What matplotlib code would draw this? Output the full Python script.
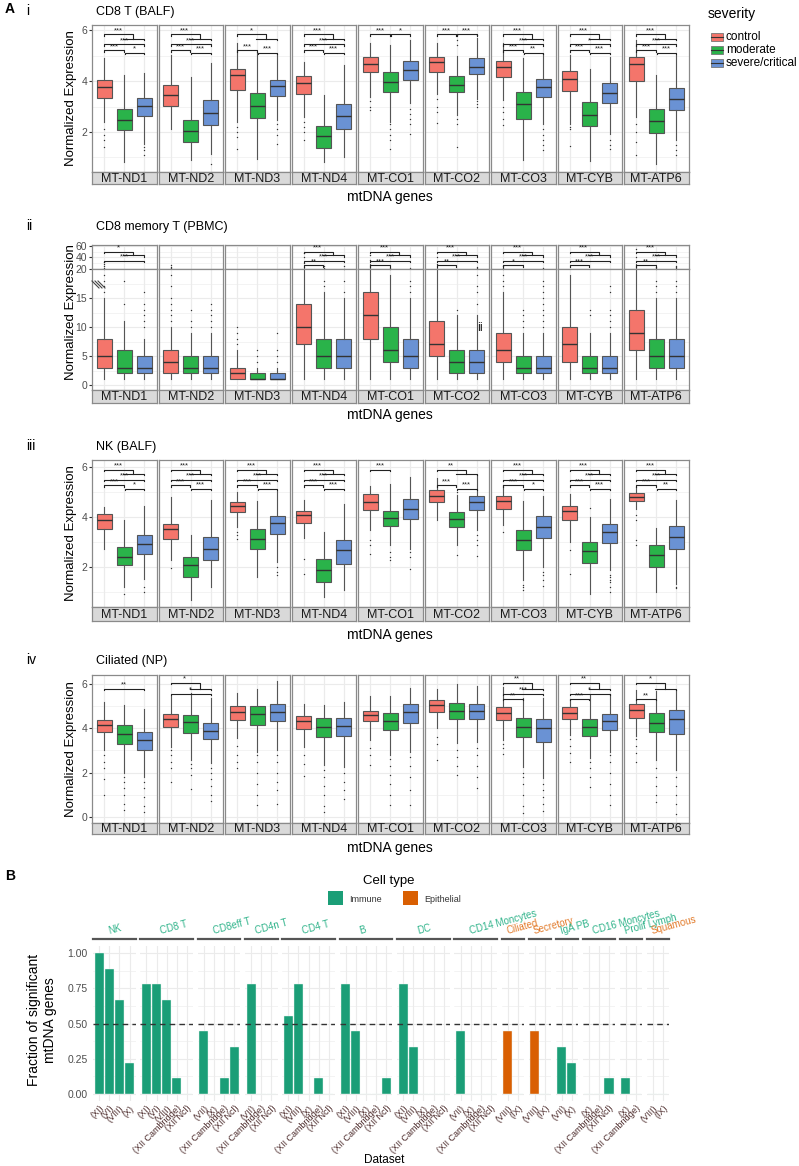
import numpy as np
import matplotlib.pyplot as plt
from matplotlib.lines import Line2D
from matplotlib.patches import Rectangle

plt.rcParams['font.family'] = ['Liberation Sans', 'DejaVu Sans']

# ---------------- data: panel A ----------------
genes = ['MT-ND1', 'MT-ND2', 'MT-ND3', 'MT-ND4', 'MT-CO1', 'MT-CO2', 'MT-CO3', 'MT-CYB', 'MT-ATP6']
severity = ['control', 'moderate', 'severe/critical']
sev_colors = ['#F4756B', '#2AB34A', '#6A92D4']

# box stats per gene: (whislo, q1, median, q3, whishi) for control / moderate / severe
cd8_balf = [
    [(2.40, 3.35, 3.77, 4.03, 4.89), (0.82, 2.07, 2.49, 2.92, 4.23), (1.54, 2.62, 3.01, 3.34, 4.30)],
    [(2.13, 3.02, 3.44, 3.84, 5.02), (0.91, 1.61, 2.04, 2.49, 4.14), (1.15, 2.26, 2.76, 3.25, 4.69)],
    [(2.40, 3.64, 4.23, 4.49, 5.48), (0.95, 2.55, 3.04, 3.55, 5.15), (2.46, 3.40, 3.80, 4.06, 5.08)],
    [(2.57, 3.51, 3.92, 4.18, 4.73), (0.82, 1.39, 1.86, 2.23, 3.47), (1.02, 2.13, 2.62, 3.10, 4.62)],
    [(3.38, 4.36, 4.66, 4.93, 5.50), (2.40, 3.56, 3.96, 4.36, 5.41), (3.12, 4.06, 4.45, 4.78, 5.60)],
    [(3.51, 4.36, 4.73, 4.93, 5.50), (2.66, 3.56, 3.86, 4.18, 5.00), (3.31, 4.26, 4.56, 4.89, 5.70)],
    [(3.25, 4.17, 4.57, 4.79, 5.48), (0.91, 2.50, 3.08, 3.58, 4.89), (2.33, 3.38, 3.77, 4.10, 5.08)],
    [(2.33, 3.60, 4.10, 4.41, 5.02), (0.85, 2.23, 2.66, 3.18, 4.49), (1.94, 3.14, 3.54, 3.93, 4.95)],
    [(2.59, 4.00, 4.66, 4.93, 5.63), (0.76, 1.96, 2.45, 2.89, 4.23), (1.67, 2.85, 3.31, 3.71, 5.02)],
]
cd8_balf_out = [
    [[1.4, 1.7, 1.9, 2.1], [], [1.1, 1.3, 1.4]],
    [[], [], [0.76]],
    [[1.35, 1.8, 2.0, 2.2], [], [1.54, 1.9, 2.1, 2.3]],
    [[1.67, 2.0, 2.2, 2.4], [], []],
    [[2.85, 3.0, 3.2], [1.35, 1.7, 1.9, 2.1, 2.3], [1.94, 2.3, 2.5, 2.7, 2.9]],
    [[2.36, 2.8, 3.0, 3.3], [1.41, 2.3, 2.5, 5.4, 5.6, 5.8], [3.0, 3.1, 3.2, 5.8]],
    [[2.26, 2.5, 2.8, 3.0], [], [1.28, 1.5, 1.7, 1.9, 2.1]],
    [[1.44, 2.1, 2.2], [], [1.35, 1.5, 1.7]],
    [[1.09, 1.6, 2.0, 2.3], [], [1.09, 1.3, 1.5]],
]
cd8_balf_sig = [
    {'1v23': '***', '1v3': '***', '1v2': '***', '2v3': '*'},
    {'1v23': '***', '1v3': '***', '1v2': '***', '2v3': '***'},
    {'1v23': '*', '1v2': '***', '2v3': '***'},
    {'1v23': '***', '1v3': '***', '1v2': '***', '2v3': '***'},
    {'1v2': '***', '2v3': '*'},
    {'1v2': '***', '2v3': '***'},
    {'1v23': '***', '1v3': '***', '1v2': '***', '2v3': '**'},
    {'1v23': '***', '1v3': '*', '1v2': '***', '2v3': '***'},
    {'1v23': '***', '1v3': '***', '1v2': '***', '2v3': '***'},
]

cd8mem_pbmc = [
    [(1, 3, 5, 8, 15), (1, 2, 3, 6, 11), (1, 2, 3, 5, 8)],
    [(1, 2, 4, 6, 10), (1, 2, 3, 5, 9), (1, 2, 3, 5, 9)],
    [(1, 1, 2, 3, 6), (1, 1, 1, 2, 3), (1, 1, 1, 2, 3)],
    [(1, 7, 10, 14, 24), (1, 3, 5, 8, 16), (1, 3, 5, 8, 15)],
    [(1, 8, 12, 16, 28), (1, 4, 6, 10, 19), (1, 3, 5, 8, 15)],
    [(1, 5, 7, 11, 22), (1, 2, 4, 6, 12), (1, 2, 4, 6, 12)],
    [(1, 4, 6, 9, 16), (1, 2, 3, 5, 9), (1, 2, 3, 5, 9)],
    [(1, 4, 7, 10, 19), (1, 2, 3, 5, 9), (1, 2, 3, 5, 9)],
    [(1, 6, 9, 13, 28), (1, 3, 5, 8, 15), (1, 3, 5, 8, 15)],
]
cd8mem_pbmc_out = [
    [[16, 17, 18, 19, 20, 22, 25, 28, 32], [14, 18], [10, 11, 12, 13, 14, 16]],
    [[11, 12, 13, 14, 15, 17, 19, 21, 24, 27], [10, 11, 13], [10, 11, 12, 13, 14]],
    [[7, 8, 9, 10], [4, 5, 6], [4, 5, 6, 9]],
    [[30, 40, 48], [17, 18, 21, 25], [16, 18, 20, 25]],
    [[35, 45], [20, 22], [16, 17, 18, 22]],
    [[28, 40], [13], [14, 16, 17, 19, 21, 23]],
    [[17, 18, 19, 20, 21, 25], [10, 11, 12, 13], [10, 11, 12, 13, 14, 15, 16, 17, 18, 22]],
    [[], [12, 13], [10, 11, 12, 13, 16, 17]],
    [[40, 55], [16, 17, 18, 20, 21, 23], [16, 17, 18, 20, 21, 23, 25]],
]
cd8mem_pbmc_sig = [
    {'1v23': '*', '1v3': '***'},
    {}, {},
    {'1v23': '***', '1v3': '***', '1v2': '**'},
    {'1v23': '***', '1v3': '***', '1v2': '***'},
    {'1v23': '***', '1v3': '***', '1v2': '**'},
    {'1v23': '***', '1v3': '***', '1v2': '*'},
    {'1v23': '***', '1v3': '***', '1v2': '***'},
    {'1v23': '***', '1v3': '***', '1v2': '**'},
]

nk_balf = [
    [(2.73, 3.52, 3.89, 4.11, 4.40), (1.20, 2.07, 2.40, 2.80, 3.89), (1.53, 2.53, 2.93, 3.29, 4.43)],
    [(2.27, 3.11, 3.53, 3.72, 4.80), (0.67, 1.60, 2.07, 2.40, 3.27), (1.20, 2.27, 2.73, 3.20, 4.67)],
    [(3.60, 4.20, 4.45, 4.61, 5.00), (1.60, 2.72, 3.13, 3.51, 4.63), (2.20, 3.32, 3.77, 4.05, 5.03)],
    [(3.17, 3.76, 4.07, 4.24, 4.69), (0.80, 1.40, 1.87, 2.33, 3.40), (1.07, 2.13, 2.67, 3.07, 4.53)],
    [(3.49, 4.29, 4.60, 4.91, 5.23), (2.87, 3.63, 3.97, 4.23, 5.33), (2.73, 3.93, 4.33, 4.73, 5.60)],
    [(3.87, 4.60, 4.84, 5.07, 5.56), (2.87, 3.60, 3.93, 4.20, 4.89), (3.47, 4.27, 4.60, 4.84, 5.67)],
    [(3.67, 4.33, 4.64, 4.85, 5.27), (1.47, 2.67, 3.09, 3.49, 4.64), (2.00, 3.17, 3.60, 4.03, 4.83)],
    [(3.00, 3.87, 4.23, 4.43, 4.93), (0.93, 2.17, 2.64, 3.00, 4.00), (1.87, 2.97, 3.40, 3.73, 4.73)],
    [(4.33, 4.64, 4.80, 4.96, 5.20), (1.00, 2.00, 2.47, 2.89, 3.56), (1.33, 2.73, 3.20, 3.64, 4.69)],
]
nk_balf_out = [
    [[], [0.93], [1.0, 1.2]],
    [[1.97], [], []],
    [[3.13, 3.3, 3.4], [], [1.67, 1.8, 2.0]],
    [[1.71, 2.33], [], []],
    [[2.53, 2.9, 3.1], [2.27, 2.4, 2.6], [1.93, 2.4, 2.6]],
    [[], [2.47, 5.0], [2.43, 2.9, 3.1, 3.3]],
    [[3.4], [1.09, 1.2, 1.3], [1.23, 1.5, 1.7, 1.8]],
    [[1.71, 2.7], [4.36], [1.0, 1.2, 1.4, 1.5, 1.6, 1.7]],
    [[2.87, 3.1, 3.9, 4.1], [], [1.15, 1.2]],
]
nk_balf_sig = [
    {'1v23': '***', '1v3': '***', '1v2': '***', '2v3': '*'},
    {'1v23': '***', '1v3': '***', '1v2': '***', '2v3': '***'},
    {'1v23': '***', '1v3': '***', '1v2': '***', '2v3': '***'},
    {'1v23': '***', '1v3': '***', '1v2': '***', '2v3': '***'},
    {'1v2': '***'},
    {'1v23': '**', '1v2': '***', '2v3': '***'},
    {'1v23': '***', '1v3': '***', '1v2': '***', '2v3': '*'},
    {'1v23': '***', '1v3': '***', '1v2': '***', '2v3': '***'},
    {'1v23': '***', '1v3': '***', '1v2': '***', '2v3': '**'},
]

ciliated_np = [
    [(3.02, 3.82, 4.14, 4.38, 5.17), (1.97, 3.28, 3.72, 4.13, 5.06), (1.82, 3.02, 3.48, 3.82, 4.87)],
    [(3.17, 4.04, 4.43, 4.64, 5.44), (2.57, 3.78, 4.26, 4.61, 5.60), (2.45, 3.51, 3.89, 4.23, 5.37)],
    [(3.55, 4.35, 4.73, 4.99, 5.59), (2.95, 4.16, 4.64, 4.99, 5.77), (3.02, 4.31, 4.73, 5.09, 6.12)],
    [(3.14, 3.96, 4.31, 4.53, 5.09), (2.34, 3.60, 4.04, 4.46, 5.06), (2.27, 3.63, 4.08, 4.46, 5.17)],
    [(3.48, 4.31, 4.60, 4.79, 5.44), (2.79, 3.93, 4.34, 4.69, 5.47), (2.95, 4.23, 4.72, 5.09, 5.82)],
    [(4.00, 4.75, 5.05, 5.26, 5.77), (3.33, 4.41, 4.78, 5.14, 6.00), (3.40, 4.41, 4.79, 5.09, 5.92)],
    [(3.48, 4.35, 4.69, 4.94, 5.86), (2.27, 3.60, 4.05, 4.46, 5.37), (1.74, 3.36, 4.00, 4.43, 5.37)],
    [(3.70, 4.41, 4.69, 4.94, 5.32), (2.65, 3.67, 4.05, 4.41, 5.52), (2.95, 3.93, 4.34, 4.64, 5.55)],
    [(3.66, 4.47, 4.81, 5.09, 5.71), (2.57, 3.81, 4.23, 4.69, 5.70), (2.12, 3.73, 4.41, 4.84, 5.74)],
]
ciliated_np_out = [
    [[0.98, 1.7, 2.2, 2.5, 2.8], [0.3, 0.6, 1.0, 1.3, 1.6, 1.8], [0.23, 0.5, 0.9, 1.3, 1.6]],
    [[1.59, 2.2, 2.5, 2.8, 3.0], [1.24, 1.9, 2.2, 2.4], [0.73, 1.0, 1.4, 1.7, 2.0, 2.2]],
    [[2.2, 2.5, 2.8, 3.2], [0.53, 1.0, 1.5, 2.0, 2.5, 2.8], [0.6, 1.2, 1.6, 2.0, 2.5, 2.8]],
    [[1.85, 2.4, 2.8], [0.23, 0.5, 1.0, 1.4, 1.8, 2.1], [0.79, 1.2, 1.6, 2.0]],
    [[2.34, 2.8, 3.1], [0.53, 1.0, 1.5, 1.9, 2.3, 2.6], [0.53, 1.2, 1.8, 2.3, 2.7]],
    [[2.57, 3.3, 3.6], [1.89, 2.3, 2.7, 3.0], [1.29, 1.8, 2.3, 2.8, 3.1]],
    [[2.83, 3.1, 3.3], [0.18, 0.5, 1.0, 1.5, 1.8, 2.0], [0.26, 0.6, 0.9, 1.2, 1.5]],
    [[2.5, 2.9, 3.2, 3.5], [1.36, 1.8, 2.2, 2.5], [0.53, 1.0, 1.5, 2.0, 2.5, 2.8]],
    [[2.5, 2.9, 3.2, 3.5], [0.68, 1.0, 1.4, 1.8, 2.2], [0.12, 0.6, 1.0, 1.4, 1.8]],
]
ciliated_np_sig = [
    {'1v3': '**'},
    {'1v23': '*', '1v3': '*'},
    {}, {}, {}, {},
    {'1v23': '**', '1v3': '***', '1v2': '**'},
    {'1v23': '**', '1v3': '*', '1v2': '***'},
    {'1v23': '*', '1v2': '**'},
]

# ---------------- data: panel B ----------------
b_celltypes = ['NK', 'CD8 T', 'CD8eff T', 'CD4n T', 'CD4 T', 'B', 'DC', 'CD14 Moncytes',
               'Ciliated', 'Secretory', 'IgA PB', 'CD16 Moncytes', 'Prolif Lymph', 'Squamous']
b_kind = ['Immune'] * 8 + ['Epithelial', 'Epithelial', 'Immune', 'Immune', 'Immune', 'Epithelial']
b_datasets = [
    ['(XI)', '(VI)', '(VIII)', '(X)'],
    ['(XI)', '(VI)', '(VIII)', '(XII Cambridge)', '(XII Ncl)'],
    ['(VII)', '(X)', '(XII Cambridge)', '(XII Ncl)'],
    ['(VII)', '(XII Cambridge)', '(XII Ncl)'],
    ['(XI)', '(VIII)', '(X)', '(XII Cambridge)', '(XII Ncl)'],
    ['(XI)', '(VIII)', '(X)', '(XII Cambridge)', '(XII Ncl)'],
    ['(XI)', '(VIII)', '(X)', '(XII Cambridge)', '(XII Ncl)'],
    ['(VII)', '(X)', '(XII Cambridge)', '(XII Ncl)'],
    ['(VIII)', '(IX)'],
    ['(VIII)', '(IX)'],
    ['(VII)', '(X)'],
    ['(X)', '(XII Cambridge)', '(XII Ncl)'],
    ['(X)', '(XII Cambridge)'],
    ['(VIII)', '(IX)'],
]
b_frac = [
    [1.000, 0.889, 0.667, 0.222],
    [0.778, 0.778, 0.667, 0.111, 0.0],
    [0.444, 0.0, 0.111, 0.333],
    [0.778, 0.0, 0.0],
    [0.556, 0.778, 0.0, 0.111, 0.0],
    [0.778, 0.444, 0.0, 0.0, 0.111],
    [0.778, 0.333, 0.0, 0.0, 0.0],
    [0.444, 0.0, 0.0, 0.0],
    [0.444, 0.0],
    [0.444, 0.0],
    [0.333, 0.222],
    [0.0, 0.0, 0.111],
    [0.111, 0.0],
    [0.0, 0.0],
]
kind_colors = {'Immune': '#1b9e77', 'Epithelial': '#d95f02'}
kind_text = {'Immune': '#2fb38a', 'Epithelial': '#e27b2b'}

# ---------------- figure ----------------
W, H = 799, 1166
fig = plt.figure(figsize=(W / 100, H / 100), dpi=100)


def add_ax(x0, y0, x1, y1):
    return fig.add_axes([x0 / W, 1 - y1 / H, (x1 - x0) / W, (y1 - y0) / H])


def ftext(x, y, s, **kw):
    fig.text(x / W, 1 - y / H, s, **kw)


def fline(xs, ys, **kw):
    fig.add_artist(Line2D([x / W for x in xs], [1 - y / H for y in ys], **kw))


border = '#8a8a8a'
gridc = '#ebebeb'


def style_panel(ax, ylim, major, minor, show_y):
    ax.set_xlim(0.375, 3.625)
    ax.set_ylim(*ylim)
    ax.set_xticks([1, 2, 3])
    ax.set_yticks(major)
    ax.set_yticks(minor, minor=True)
    ax.grid(True, which='major', color=gridc, lw=0.8)
    ax.grid(True, which='minor', color=gridc, lw=0.4)
    ax.set_axisbelow(True)
    for s in ax.spines.values():
        s.set_color(border)
        s.set_linewidth(0.9)
    ax.tick_params(axis='x', length=0, labelbottom=False)
    ax.tick_params(axis='y', which='minor', length=0)
    if show_y:
        ax.tick_params(axis='y', length=2.5, color='#333333', labelsize=7.5, labelcolor='#4d4d4d', pad=1)
    else:
        ax.tick_params(axis='y', length=0, labelleft=False)


def draw_boxes(ax, stats3, out3):
    stats = []
    for k in range(3):
        lo, q1, med, q3, hi = stats3[k]
        stats.append(dict(whislo=lo, q1=q1, med=med, q3=q3, whishi=hi, fliers=out3[k]))
    bp = ax.bxp(stats, positions=[1, 2, 3], widths=0.75, patch_artist=True, showcaps=False,
                boxprops=dict(edgecolor='#555555', linewidth=0.8),
                medianprops=dict(color='#333333', linewidth=1.0),
                whiskerprops=dict(color='#555555', linewidth=0.8),
                flierprops=dict(marker='o', markersize=1.0, markerfacecolor='#333333',
                                markeredgecolor='none'))
    for patch, c in zip(bp['boxes'], sev_colors):
        patch.set_facecolor(c)


def draw_sig(ax, sig, levels, tip):
    top, second, l13, l12, l23 = levels
    if '1v23' not in sig:
        l13 = second
        l12 = l23 = top
    kw = dict(color='#222222', lw=0.8, clip_on=False)
    tk = dict(ha='center', va='bottom', fontsize=5.5, color='#222222')
    if '1v23' in sig:
        ax.plot([1.0, 1.0, 2.45, 2.45], [top - tip, top, top, second], **kw)
        ax.plot([1.95, 3.0, 3.0], [second, second, second - tip], **kw)
        ax.text(1.7, top, sig['1v23'], **tk)
    if '1v3' in sig:
        ax.plot([1.0, 1.0, 3.0, 3.0], [l13 - tip, l13, l13, l13 - tip], **kw)
        ax.text(2.0, l13, sig['1v3'], **tk)
    if '1v2' in sig:
        ax.plot([1.0, 1.0, 1.97, 1.97], [l12 - tip, l12, l12, l12 - tip], **kw)
        ax.text(1.5, l12, sig['1v2'], **tk)
    if '2v3' in sig:
        ax.plot([2.03, 2.03, 3.0, 3.0], [l23 - tip, l23, l23, l23 - tip], **kw)
        ax.text(2.5, l23, sig['2v3'], **tk)


def draw_strip(x0, x1, y0, y1, label):
    sa = add_ax(x0, y0, x1, y1)
    sa.set_facecolor('#d9d9d9')
    sa.set_xticks([])
    sa.set_yticks([])
    for s in sa.spines.values():
        s.set_color(border)
        s.set_linewidth(0.9)
    sa.text(0.5, 0.45, label, ha='center', va='center', fontsize=9, color='#1a1a1a',
            transform=sa.transAxes)


fx0 = [92 + 66.5 * k for k in range(9)]
fw = 64.5

rows = [
    dict(data=cd8_balf, out=cd8_balf_out, sig=cd8_balf_sig, top=25, bot=172, strip=184,
         ylim=(0.43, 6.2), major=[2, 4, 6], minor=[1, 3, 5],
         levels=(5.83, 5.66, 5.45, 5.21, 5.12), tip=0.06),
    dict(data=nk_balf, out=nk_balf_out, sig=nk_balf_sig, top=460, bot=607, strip=621,
         ylim=(0.4, 6.28), major=[2, 4, 6], minor=[1, 3, 5],
         levels=(5.89, 5.73, 5.49, 5.27, 5.13), tip=0.06),
    dict(data=ciliated_np, out=ciliated_np_out, sig=ciliated_np_sig, top=675, bot=823, strip=834,
         ylim=(-0.27, 6.4), major=[0, 2, 4, 6], minor=[1, 3, 5],
         levels=(6.05, 5.79, 5.56, 5.32, 5.2), tip=0.06),
]

for r in rows:
    for g in range(9):
        ax = add_ax(fx0[g], r['top'], fx0[g] + fw, r['bot'])
        style_panel(ax, r['ylim'], r['major'], r['minor'], g == 0)
        draw_boxes(ax, r['data'][g], r['out'][g])
        draw_sig(ax, r['sig'][g], r['levels'], r['tip'])
        draw_strip(fx0[g], fx0[g] + fw, r['bot'], r['strip'], genes[g])

# row ii with broken axis
for g in range(9):
    up = add_ax(fx0[g], 245, fx0[g] + fw, 269)
    lo = add_ax(fx0[g], 269, fx0[g] + fw, 390)
    style_panel(up, (20, 61.7), [20, 40, 60], [30, 50], g == 0)
    style_panel(lo, (-0.86, 20), [0, 5, 10, 15], [2.5, 7.5, 12.5, 17.5], g == 0)
    draw_boxes(up, cd8mem_pbmc[g], cd8mem_pbmc_out[g])
    draw_boxes(lo, cd8mem_pbmc[g], cd8mem_pbmc_out[g])
    draw_sig(up, cd8mem_pbmc_sig[g], (50, 44.3, 34.5, 27, 25), 3.0)
    draw_strip(fx0[g], fx0[g] + fw, 390, 403, genes[g])

# break marks
for dx in (0, 3, 6):
    fline([92 + dx, 99 + dx], [281, 288], color='#444444', lw=0.8)

# labels panel A
ftext(5, 9, 'A', fontsize=10, fontweight='bold', va='center')
for lab, ttl, y in [('i', 'CD8 T (BALF)', 12), ('ii', 'CD8 memory T (PBMC)', 227),
                    ('iii', 'NK (BALF)', 447), ('iv', 'Ciliated (NP)', 661)]:
    ftext(26, y - 1, lab, fontsize=10, va='center')
    ftext(96, y, ttl, fontsize=9, va='center')
for yc in (98, 312, 533, 749):
    ftext(71, yc, 'Normalized Expression', fontsize=9.5, rotation=90, ha='center', va='center')
for yc in (197, 415, 635, 848):
    ftext(390, yc, 'mtDNA genes', fontsize=10, ha='center', va='center')
ftext(480, 328, 'ii', fontsize=9, ha='center', va='center', color='#222222')

# severity legend
ftext(708, 14, 'severity', fontsize=10, va='center')
for k, (name, c) in enumerate(zip(severity, sev_colors)):
    yc = 37 + 13 * k
    fig.add_artist(Rectangle((711 / W, 1 - (yc + 4) / H), 12 / W, 8 / H, facecolor=c,
                             edgecolor='#777777', lw=0.6))
    fline([711, 723], [yc, yc], color='#333333', lw=0.8)
    ftext(726, yc, name, fontsize=8.5, va='center')

# ---------------- panel B ----------------
ftext(5, 876, 'B', fontsize=10, fontweight='bold', va='center')
ftext(389, 881, 'Cell type', fontsize=9.5, ha='center', va='center')
for xk, name in [(328, 'Immune'), (403, 'Epithelial')]:
    fig.add_artist(Rectangle((xk / W, 1 - 905 / H), 15 / W, 14 / H, facecolor=kind_colors[name],
                             edgecolor='none'))
    ftext(xk + 21, 899, name, fontsize=6.5, va='center', color='#333333')

ns = [len(d) for d in b_datasets]
gap = 4.6
unit = (576 - gap * (len(ns) - 1)) / sum(n + 0.2 for n in ns)
bx = 93.0
for c, n in enumerate(ns):
    w = (n + 0.2) * unit
    ax = add_ax(bx, 946, bx + w, 1101)
    pos = np.arange(n)
    ax.bar(pos, b_frac[c], width=0.9, color=kind_colors[b_kind[c]], edgecolor='#e8f5f0',
           linewidth=0.3, zorder=2)
    ax.axhline(0.5, color='#333333', lw=1.0, ls=(0, (4, 3)), zorder=3)
    ax.set_xlim(-0.6, n - 0.4)
    ax.set_ylim(-0.05, 1.05)
    ax.set_xticks(pos)
    ax.set_xticklabels(b_datasets[c], rotation=45, ha='right', rotation_mode='anchor',
                       fontsize=6.5, color='#4b2a2a')
    ax.set_yticks([0, 0.25, 0.5, 0.75, 1.0])
    ax.set_yticks([0.125, 0.375, 0.625, 0.875], minor=True)
    ax.grid(True, which='major', color=gridc, lw=0.8)
    ax.grid(True, which='minor', axis='y', color=gridc, lw=0.4)
    ax.set_axisbelow(True)
    for s in ax.spines.values():
        s.set_visible(False)
    ax.tick_params(axis='x', length=0, pad=2)
    ax.tick_params(axis='y', which='both', length=0)
    if c == 0:
        ax.set_yticklabels(['0.00', '0.25', '0.50', '0.75', '1.00'], fontsize=7.5, color='#4d4d4d')
        ax.tick_params(axis='y', pad=4)
    else:
        ax.tick_params(axis='y', labelleft=False)
    fline([bx, bx + w], [939, 939], color='#555555', lw=1.6)
    ftext(bx + w / 2 - 5, 936, b_celltypes[c], fontsize=7, color=kind_text[b_kind[c]],
          rotation=15, rotation_mode='anchor', ha='left', va='bottom')
    bx += w + gap

ftext(42, 1020, 'Fraction of significant\nmtDNA genes', fontsize=10, rotation=90,
      ha='center', va='center', linespacing=1.1)
ftext(384, 1160, 'Dataset', fontsize=8.5, ha='center', va='center')

fig.savefig('out.png', dpi=100)
